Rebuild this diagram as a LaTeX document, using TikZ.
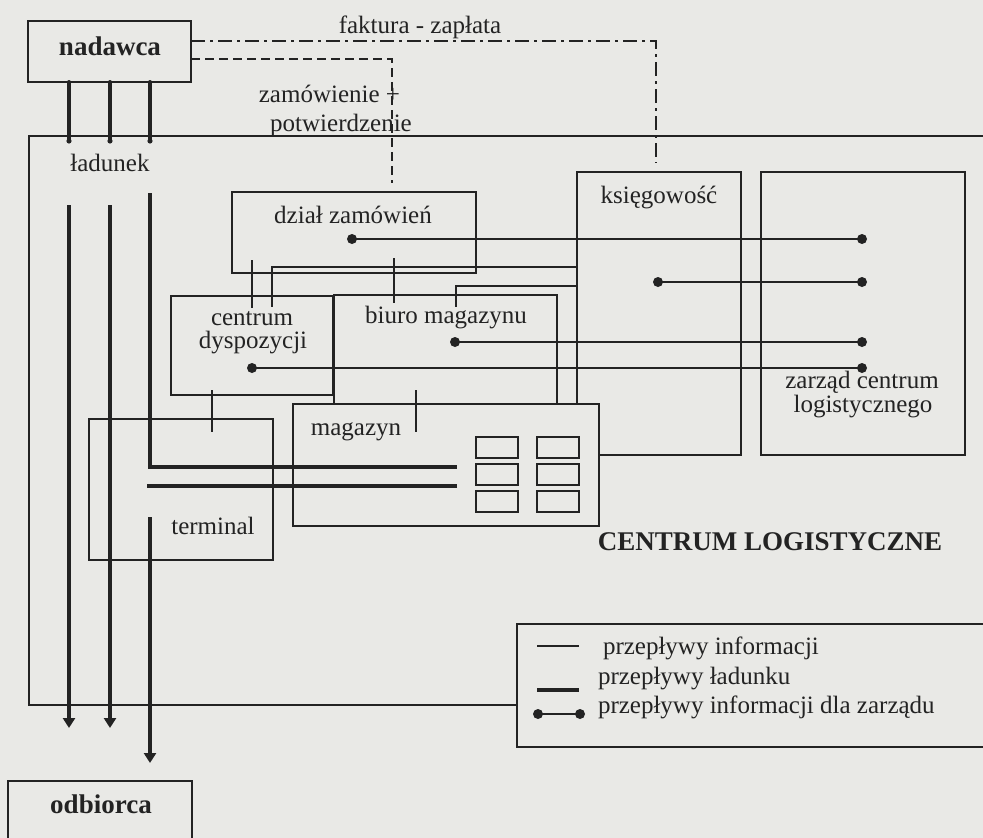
\documentclass[tikz,border=0pt]{standalone}
\usepackage{fontspec}
\setmainfont{Liberation Serif}
\usetikzlibrary{arrows.meta}
\definecolor{bg}{RGB}{233,233,230}
\definecolor{ink}{RGB}{35,35,35}
\begin{document}
\begin{tikzpicture}[x=1pt,y=-1pt,
  every node/.style={inner sep=0pt, outer sep=0pt, font=\fontsize{25}{30}\selectfont, text=ink},
  box/.style={draw=ink, line width=1.6pt, fill=bg, anchor=north west},
  shelf/.style={draw=ink, line width=1.5pt, fill=bg, anchor=north west, minimum width=42pt, minimum height=21pt},
  info/.style={draw=ink, line width=1.6pt},
  cargo/.style={draw=ink, line width=4pt},
  cargoarrow/.style={cargo, -{Triangle[width=12pt,length=10pt]}},
  orderline/.style={draw=ink, line width=1.5pt, dash pattern=on 9pt off 5pt},
  billline/.style={draw=ink, line width=1.5pt, dash pattern=on 14pt off 5pt on 3pt off 5pt},
  dotmark/.style={fill=ink},
  lbl/.style={anchor=base},
  boldlbl/.style={anchor=base, font=\fontsize{27}{32}\selectfont\bfseries}
]
\useasboundingbox (0,0) rectangle (983,838);
\clip (0,0) rectangle (983,838);
\fill[bg] (0,0) rectangle (983,838);

% outer "centrum logistyczne" frame (right side off the picture)
\node[box, fill=none, minimum width=990pt, minimum height=569pt] (cl) at (29,136) {};

% sender / receiver
\node[box, minimum width=163pt, minimum height=61pt] (nad) at (28,21) {};
\node[boldlbl] (nadt) at (110,55) {nadawca};
\node[box, minimum width=184pt, minimum height=90pt] (odb) at (8,781) {};
\node[boldlbl] (odbt) at (101,813) {odbiorca};

% departments
\node[box, minimum width=164pt, minimum height=283pt] (ks) at (577,172) {};
\node[box, minimum width=204pt, minimum height=283pt] (zr) at (761,172) {};
\node[box, minimum width=244pt, minimum height=81pt] (dz) at (232,192) {};
\node[box, minimum width=162pt, minimum height=99pt] (cd) at (171,296) {};
\node[box, minimum width=223pt, minimum height=109pt] (bm) at (334,295) {};
\node[box, minimum width=306pt, minimum height=122pt] (mg) at (293,404) {};
\node[box, minimum width=184pt, minimum height=141pt] (tm) at (89,419) {};

% shelves in the warehouse
\node[shelf] (s11) at (476,437) {};
\node[shelf] (s12) at (537,437) {};
\node[shelf] (s21) at (476,464) {};
\node[shelf] (s22) at (537,464) {};
\node[shelf] (s31) at (476,491) {};
\node[shelf] (s32) at (537,491) {};

% labels
\node[lbl] (dzt) at (353,223) {dział zamówień};
\node[lbl] (kst) at (659,203) {księgowość};
\node[lbl] (zrt1) at (862,388) {zarząd centrum};
\node[lbl] (zrt2) at (863,412) {logistycznego};
\node[lbl] (cdt1) at (252,325) {centrum};
\node[lbl] (cdt2) at (253,348) {dyspozycji};
\node[lbl] (bmt) at (446,323) {biuro magazynu};
\node[lbl] (mgt) at (356,435) {magazyn};
\node[lbl] (tmt) at (213,534) {terminal};
\node[lbl] (ldt) at (110,171) {ładunek};
\node[boldlbl, font=\fontsize{27}{31}\selectfont\bfseries] (clt) at (770,550) {CENTRUM LOGISTYCZNE};
\node[lbl] (fzt) at (420,33) {faktura - zapłata};
\node[anchor=base east] (zpt1) at (400,102) {zamówienie +};
\node[lbl] (zpt2) at (341,131) {potwierdzenie};

% invoice / payment and order / confirmation
\coordinate (billend) at (656,163);
\coordinate (ordend) at (392,183);
\draw[billline] (nad.east |- 0,41) -- (billend |- 0,41) -- (billend);
\draw[orderline] (nad.east |- 0,59) -- (ordend |- 0,59) -- (ordend);

% information flows
\coordinate (dzA) at (252,260);
\coordinate (cdA) at (252,308);
\coordinate (dzB) at (394,258);
\coordinate (bmB) at (394,303);
\coordinate (cdC) at (272,307);
\coordinate (bmD) at (456,307);
\coordinate (cdE) at (212,390);
\coordinate (tmE) at (212,432);
\coordinate (bmF) at (416,390);
\coordinate (mgF) at (416,432);
\draw[info] (dzA) -- (cdA);
\draw[info] (dzB) -- (bmB);
\draw[info] (ks.west |- 0,267) -- (cdC |- 0,267) -- (cdC);
\draw[info] (ks.west |- 0,286) -- (bmD |- 0,286) -- (bmD);
\draw[info] (cdE) -- (tmE);
\draw[info] (bmF) -- (mgF);

% information flows for management
\coordinate (dzd) at (352,239);
\coordinate (ksd) at (658,282);
\coordinate (bmd) at (455,342);
\coordinate (cdd) at (252,368);
\coordinate (z1) at (862,239);
\coordinate (z2) at (862,282);
\coordinate (z3) at (862,342);
\coordinate (z4) at (862,368);
\draw[info] (dzd) -- (z1);
\draw[info] (ksd) -- (z2);
\draw[info] (bmd) -- (z3);
\draw[info] (cdd) -- (z4);
\foreach \p in {dzd,ksd,bmd,cdd,z1,z2,z3,z4} \fill[dotmark] (\p) circle (5pt);

% cargo flows
\foreach \x in {69,110,150} {
  \draw[cargo, line cap=round] (nad.south -| \x,0) -- (\x,141);
  \fill[ink] (\x,141) circle (2.6pt);
}
\coordinate (c1a) at (69,205);
\coordinate (c1b) at (69,728);
\coordinate (c2a) at (110,205);
\coordinate (c2b) at (110,728);
\coordinate (c3a) at (150,193);
\coordinate (c3b) at (150,467);
\coordinate (c3c) at (457,467);
\coordinate (c4a) at (457,486);
\coordinate (c4b) at (147,486);
\coordinate (c5a) at (150,517);
\coordinate (c5b) at (150,763);
\draw[cargoarrow] (c1a) -- (c1b);
\draw[cargoarrow] (c2a) -- (c2b);
\draw[cargo] (c3a) -- (c3b) -- (c3c);
\draw[cargo] (c4a) -- (c4b);
\draw[cargoarrow] (c5a) -- (c5b);

% legend
\node[box, minimum width=480pt, minimum height=123pt] (lg) at (517,624) {};
\coordinate (l1a) at (537,646); \coordinate (l1b) at (579,646);
\coordinate (l2a) at (537,690); \coordinate (l2b) at (579,690);
\coordinate (l3a) at (538,714); \coordinate (l3b) at (580,714);
\draw[info] (l1a) -- (l1b);
\draw[cargo] (l2a) -- (l2b);
\draw[info] (l3a) -- (l3b);
\fill[dotmark] (l3a) circle (5pt);
\fill[dotmark] (l3b) circle (5pt);
\node[anchor=base west] (lt1) at (603,654) {przepływy informacji};
\node[anchor=base west] (lt2) at (598,684) {przepływy ładunku};
\node[anchor=base west] (lt3) at (598,713) {przepływy informacji dla zarządu};
\end{tikzpicture}
\end{document}
